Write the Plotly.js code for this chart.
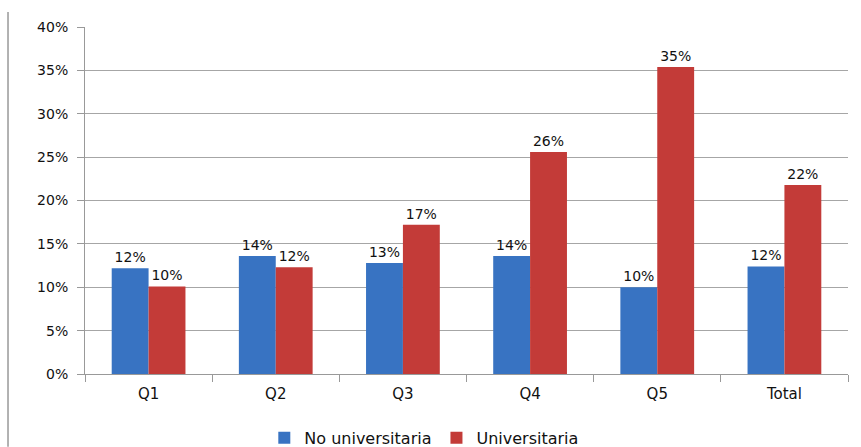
<!DOCTYPE html>
<html>
<head>
<meta charset="utf-8">
<script src="https://cdn.plot.ly/plotly-3.0.1.min.js"></script>
<style>html,body{margin:0;padding:0;background:#fff;}#chart{width:861px;height:447px;}</style>
</head>
<body>
<div id="chart"></div>
<script>
const categories = ["Q1", "Q2", "Q3", "Q4", "Q5", "Total"];
const noUniversitaria = [0.122, 0.136, 0.128, 0.136, 0.100, 0.124];
const universitaria = [0.101, 0.123, 0.172, 0.256, 0.354, 0.218];
const seriesNames = ["No universitaria", "Universitaria"];

const fontFam = "DejaVu Sans, Verdana, sans-serif";
const traces = [
  {
    type: "bar", name: seriesNames[0], x: categories, y: noUniversitaria,
    marker: {color: "#3873c2"},
    texttemplate: "%{y:.0%}", textposition: "outside", cliponaxis: false,
    textfont: {family: fontFam, size: 14, color: "#111"}
  },
  {
    type: "bar", name: seriesNames[1], x: categories, y: universitaria,
    marker: {color: "#c33b38"},
    texttemplate: "%{y:.0%}", textposition: "outside", cliponaxis: false,
    textfont: {family: fontFam, size: 14, color: "#111"}
  }
];

const layout = {
  width: 861, height: 447,
  margin: {l: 85, r: 13, t: 27, b: 73, autoexpand: false},
  paper_bgcolor: "#fff", plot_bgcolor: "#fff",
  font: {family: fontFam, size: 14, color: "#111"},
  barmode: "group", bargap: 0.42, bargroupgap: 0,
  showlegend: true,
  legend: {orientation: "h", x: 0.235, xanchor: "left", y: -0.135, yanchor: "top",
           font: {family: fontFam, size: 16}, traceorder: "normal", itemgap: 30},
  xaxis: {
    showline: true, linecolor: "#999", linewidth: 1,
    tickson: "boundaries", ticks: "outside", ticklen: 7, tickcolor: "#999",
    showgrid: false, tickfont: {family: fontFam, size: 15},
    ticklabelstandoff: 6
  },
  yaxis: {
    range: [0, 0.4], dtick: 0.05, tickformat: ".0%",
    showline: true, linecolor: "#999", linewidth: 1,
    ticks: "outside", ticklen: 7, tickcolor: "#999",
    showgrid: true, gridcolor: "#a6a6a6", gridwidth: 1,
    zeroline: false, tickfont: {family: fontFam, size: 14},
    ticklabelstandoff: 6
  },
  shapes: [
    {type: "line", xref: "paper", yref: "paper", x0: -0.1009, x1: -0.1009,
     y0: -0.21, y1: 1.043, line: {color: "#999", width: 1.5}}
  ]
};

Plotly.newPlot("chart", traces, layout, {displayModeBar: false, staticPlot: true});
</script>
</body>
</html>
